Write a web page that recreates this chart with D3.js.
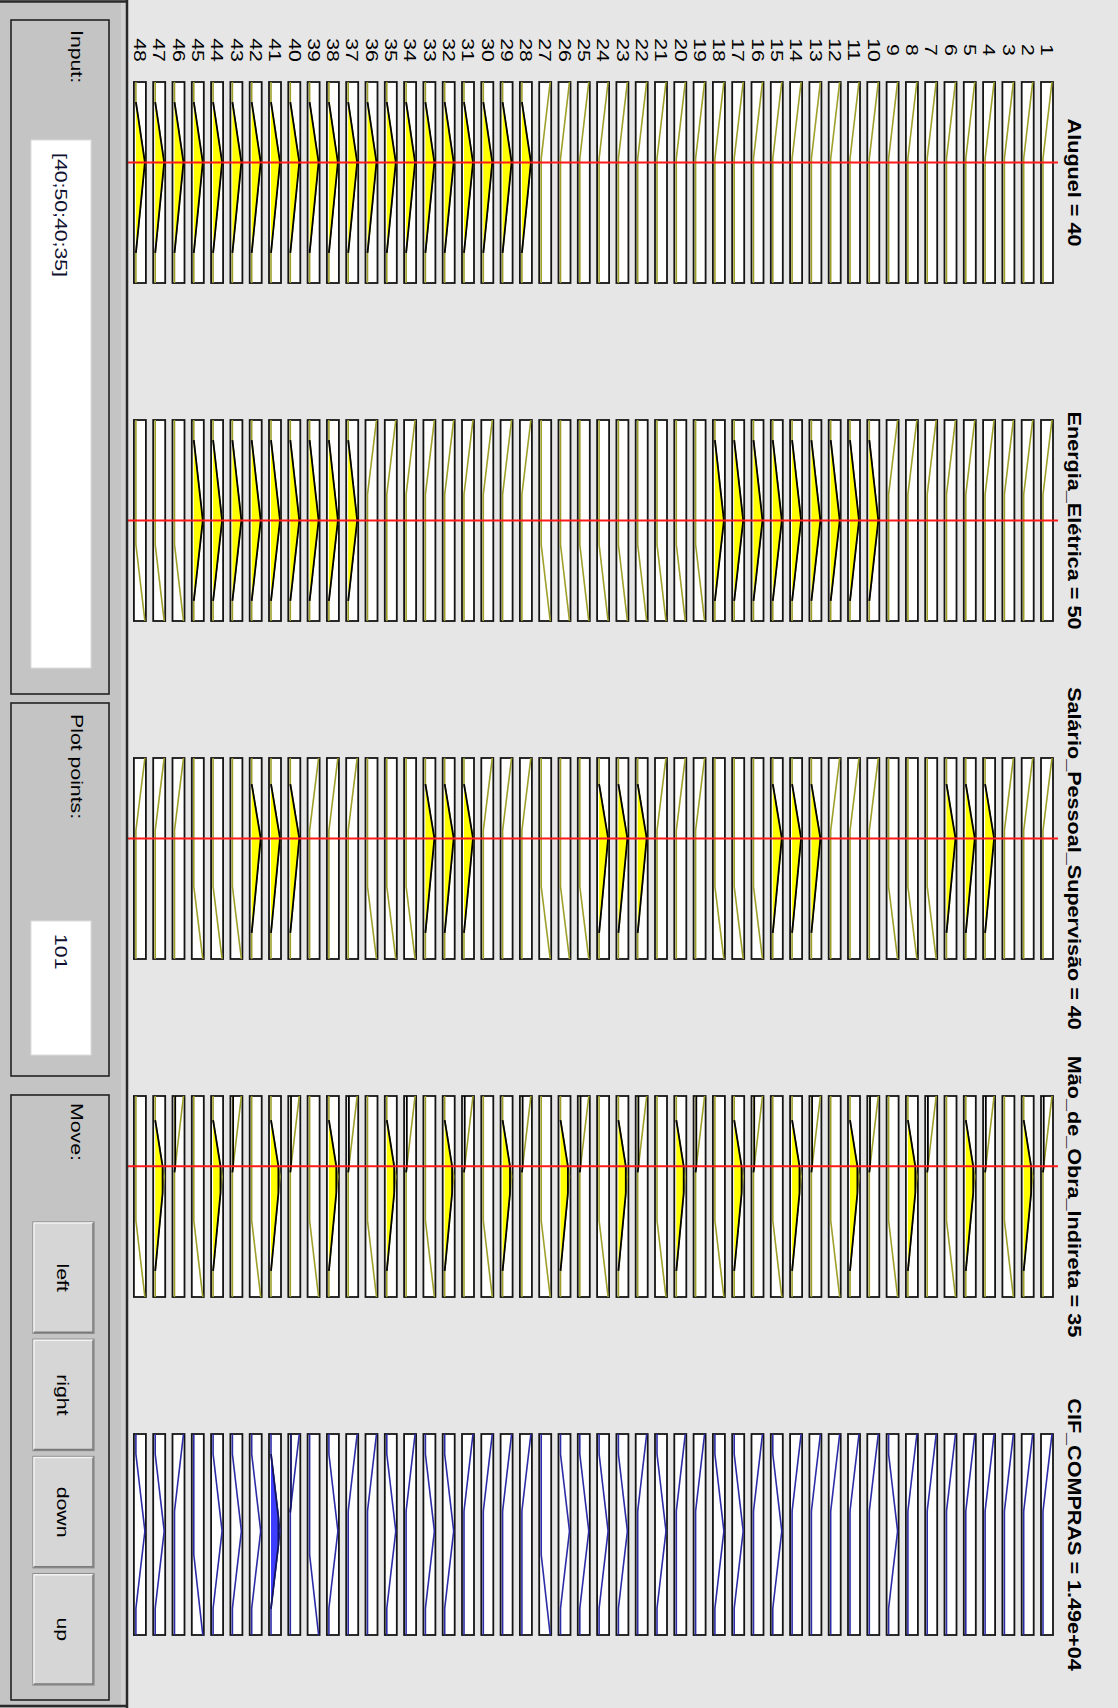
<!DOCTYPE html>
<html>
<head>
<meta charset="utf-8">
<script src="https://cdn.jsdelivr.net/npm/d3@7"></script>
<style>
  body { margin: 0; background: #e6e6e6; }
  svg { display: block; font-family: "Liberation Sans", Arial, Helvetica, sans-serif; }
</style>
</head>
<body>
<svg id="viewer" width="1118" height="1708"></svg>
<script>
// Rule viewer data
const inputNames = ["Aluguel", "Energia_Elétrica", "Salário_Pessoal_Supervisão", "Mão_de_Obra_Indireta"];
const inputValues = [40, 50, 40, 35];
const inputRange = [0, 100];

// triangular MFs [a, b, c] : low, medium, high
const aluguelMFs = [[-40, 0, 38], [10, 40, 85], [62, 100, 140]];
const energiaMFs = [[-40, 0, 37], [10, 50, 90], [62, 100, 140]];
const salarioMFs = [[-40, 0, 36], [13, 40, 87], [64, 100, 140]];
const maoMFs = [[-40, 0, 38], [12, 40, 87], [62, 100, 140]];

const outputName = "CIF_COMPRAS";
const outputLabel = "1.49e+04";
const outputRange = [0, 30000];
const cifMFs = [[-12000, 0, 11500], [3000, 14500, 26000], [18000, 30000, 42000]];

const ruleNumbers = [1, 2, 3, 4, 5, 6, 7, 8, 9, 10, 11, 12, 13, 14, 15, 16, 17, 18, 19, 20,
  21, 22, 23, 24, 25, 26, 27, 28, 29, 30, 31, 32, 33, 34, 35, 36, 37, 38, 39, 40,
  41, 42, 43, 44, 45, 46, 47, 48, 49];

// MF index used by each rule (1 = low, 2 = medium, 3 = high)
const ruleAluguel = [1, 1, 1, 1, 1, 1, 1, 1, 1, 1, 1, 1, 1, 1, 1, 1, 1, 1, 1, 1,
  1, 1, 1, 1, 1, 1, 1, 2, 2, 2, 2, 2, 2, 2, 2, 2, 2, 2, 2, 2,
  2, 2, 2, 2, 2, 2, 2, 2, 2];
const ruleEnergia = [1, 1, 1, 1, 1, 1, 1, 1, 1, 2, 2, 2, 2, 2, 2, 2, 2, 2, 3, 3,
  3, 3, 3, 3, 3, 3, 3, 1, 1, 1, 1, 1, 1, 1, 1, 1, 2, 2, 2, 2,
  2, 2, 2, 2, 2, 3, 3, 3, 3];
const ruleSalario = [1, 1, 1, 2, 2, 2, 3, 3, 3, 1, 1, 1, 2, 2, 2, 3, 3, 3, 1, 1,
  1, 2, 2, 2, 3, 3, 3, 1, 1, 1, 2, 2, 2, 3, 3, 3, 1, 1, 1, 2,
  2, 2, 3, 3, 3, 1, 1, 1, 2];
const ruleMao = [1, 2, 3, 1, 2, 3, 1, 2, 3, 1, 2, 3, 1, 2, 3, 1, 2, 3, 1, 2,
  3, 1, 2, 3, 1, 2, 3, 1, 2, 3, 1, 2, 3, 1, 2, 3, 1, 2, 3, 1,
  2, 3, 1, 2, 3, 1, 2, 3, 1];
const ruleCif = [1, 1, 1, 1, 1, 1, 1, 1, 2, 1, 1, 1, 1, 1, 2, 1, 2, 2, 1, 1,
  2, 1, 2, 2, 2, 2, 3, 1, 1, 1, 1, 2, 2, 1, 2, 1, 1, 2, 3, 1,
  2, 2, 2, 2, 3, 1, 2, 2, 2];

const inputText = "[40;50;40;35]";
const plotPoints = 101;
const moveButtons = ["left", "right", "down", "up"];

// ---------------------------------------------------------------
const svg = d3.select("#viewer");
const BOX_W = 12, BOX_H = 201;
const PANEL_W = 128;

function trimf(x, p) {
  const [a, b, c] = p;
  const l = b === a ? (x >= b ? 1 : 0) : (x - a) / (b - a);
  const r = c === b ? (x <= b ? 1 : 0) : (c - x) / (c - b);
  return Math.max(0, Math.min(l, r));
}

const ruleX = d3.scalePoint().domain(ruleNumbers).range([1047, 1047 - 48 * 19.3]);
const rowNames = [...inputNames, outputName];
const rowY = d3.scalePoint().domain(rowNames).range([82, 82 + 4 * 338]);

const mfSets = [aluguelMFs, energiaMFs, salarioMFs, maoMFs];
const ruleMFs = [ruleAluguel, ruleEnergia, ruleSalario, ruleMao];

// firing strength of every rule (min of antecedent memberships)
const firing = ruleNumbers.map((r, i) =>
  d3.min(mfSets.map((set, j) => trimf(inputValues[j], set[ruleMFs[j][i] - 1]))));

const muX = d3.scaleLinear().domain([0, 1]).range([2, BOX_W - 1]);

function vtext(parent, x, y, str, size, stretch, anchor, weight) {
  return parent.append("text")
    .attr("transform", `translate(${x},${y}) rotate(90) scale(${stretch},1)`)
    .attr("text-anchor", anchor)
    .attr("dominant-baseline", "central")
    .attr("font-size", size)
    .attr("font-weight", weight || "normal")
    .attr("fill", "#000")
    .text(str);
}

// keep only points inside the support, plus one neighbour on each side
function support(pts) {
  return pts.filter((d, i) => d.f > 0 ||
    (pts[i - 1] && pts[i - 1].f > 0) || (pts[i + 1] && pts[i + 1].f > 0));
}

const plot = svg.append("g").attr("class", "plot");

// rule numbers along the top
ruleNumbers.forEach(r => {
  vtext(plot, ruleX(r), 50, String(r), 17, 1.25, "middle");
});

function drawRow(name, range, sets, ruleIdx, clipLevel, lineColor, fillColor, edgeColor) {
  const top = rowY(name);
  const vY = d3.scaleLinear().domain(range).range([0, BOX_H]);
  const xs = d3.range(plotPoints).map(k => range[0] + (range[1] - range[0]) * k / (plotPoints - 1));
  const line = d3.line().x(d => muX(d.m)).y(d => vY(d.x));
  const edge = d3.line().x(d => muX(d.f)).y(d => vY(d.x));
  const area = d3.area().y(d => vY(d.x)).x0(muX(0)).x1(d => muX(d.f));

  const row = plot.append("g").attr("class", "row");
  ruleNumbers.forEach((r, i) => {
    const params = sets[ruleIdx[i] - 1];
    const level = clipLevel(i, params);
    const pts = xs.map(x => {
      const m = trimf(x, params);
      return {x, m, f: Math.min(m, level)};
    });
    const g = row.append("g").attr("transform", `translate(${ruleX(r) - BOX_W / 2},${top})`);
    g.append("rect")
      .attr("width", BOX_W).attr("height", BOX_H)
      .attr("fill", "#fff").attr("stroke", "#151515").attr("stroke-width", 1.8);
    g.append("path").attr("d", line(pts))
      .attr("fill", "none").attr("stroke", lineColor).attr("stroke-width", 1.6);
    if (level > 0) {
      const sup = support(pts);
      g.append("path").attr("d", area(sup)).attr("fill", fillColor).attr("stroke", "none");
      g.append("path").attr("d", edge(sup))
        .attr("fill", "none").attr("stroke", edgeColor).attr("stroke-width", 1.8);
    }
  });
  return {top, vY};
}

inputNames.forEach((name, j) => {
  const {top, vY} = drawRow(name, inputRange, mfSets[j], ruleMFs[j],
    (i, p) => trimf(inputValues[j], p), "#9f9f2c", "#ffff00", "#000");
  // red input line
  plot.append("line")
    .attr("x1", PANEL_W).attr("x2", ruleX(1) + BOX_W / 2 + 5)
    .attr("y1", top + vY(inputValues[j])).attr("y2", top + vY(inputValues[j]))
    .attr("stroke", "#ff1a1a").attr("stroke-width", 2);
  vtext(plot, 1074, top + BOX_H / 2, `${name} = ${inputValues[j]}`, 18, 1.2, "middle", "bold");
});

{
  const top = drawRow(outputName, outputRange, cifMFs, ruleCif,
    i => firing[i], "#2c2ca6", "#3d3dff", "#14145e").top;
  vtext(plot, 1074, top + BOX_H / 2, `${outputName} = ${outputLabel}`, 18, 1.2, "middle", "bold");
}

// ---------------------------------------------------------------
// control panel on the left
const panel = svg.append("g").attr("class", "panel");
panel.append("rect")
  .attr("x", 0).attr("y", 0).attr("width", PANEL_W).attr("height", 1708)
  .attr("fill", "#c4c4c4");
panel.append("rect")
  .attr("x", 121).attr("y", 0).attr("width", 5).attr("height", 1708)
  .attr("fill", "#d2d2d2");
panel.append("line")
  .attr("x1", 127).attr("x2", 127).attr("y1", 0).attr("y2", 1708)
  .attr("stroke", "#2a2a2a").attr("stroke-width", 2.5);
panel.append("line")
  .attr("x1", 0).attr("x2", 127).attr("y1", 1.5).attr("y2", 1.5)
  .attr("stroke", "#2a2a2a").attr("stroke-width", 2.5);
panel.append("line")
  .attr("x1", 0).attr("x2", 127).attr("y1", 1706).attr("y2", 1706)
  .attr("stroke", "#2a2a2a").attr("stroke-width", 2.5);

function frame(y0, y1) {
  panel.append("rect")
    .attr("x", 11).attr("y", y0).attr("width", 98).attr("height", y1 - y0)
    .attr("fill", "#c4c4c4").attr("stroke", "#222").attr("stroke-width", 1.6);
}
function field(y0, y1, str) {
  panel.append("rect")
    .attr("x", 31).attr("y", y0).attr("width", 60).attr("height", y1 - y0)
    .attr("fill", "#fff").attr("stroke", "#dcdcdc").attr("stroke-width", 1);
  vtext(panel, 61, y0 + 13, str, 17, 1.25, "start").attr("fill", "#101030");
}

frame(20, 694);
vtext(panel, 77, 30, "Input:", 17, 1.25, "start");
field(140, 668, inputText);

frame(703, 1076);
vtext(panel, 77, 714, "Plot points:", 17, 1.25, "start");
field(921, 1055, String(plotPoints));

frame(1095, 1700);
vtext(panel, 77, 1103, "Move:", 17, 1.25, "start");

const btnY = d3.scaleBand().domain(moveButtons).range([1222, 1685]).paddingInner(0.05);
moveButtons.forEach(b => {
  const y = btnY(b), h = btnY.bandwidth();
  const g = panel.append("g").attr("transform", `translate(33,${y})`);
  g.append("rect").attr("width", 61).attr("height", h)
    .attr("fill", "#d6d6d6").attr("stroke", "#8a8a8a").attr("stroke-width", 1.2);
  g.append("path").attr("d", `M1,${h - 1} V1 H60`)
    .attr("fill", "none").attr("stroke", "#f4f4f4").attr("stroke-width", 1.5);
  g.append("path").attr("d", `M60,1 V${h - 1} H1`)
    .attr("fill", "none").attr("stroke", "#7a7a7a").attr("stroke-width", 1.5);
  vtext(g, 30, h / 2, b, 17, 1.25, "middle");
});
</script>
</body>
</html>
